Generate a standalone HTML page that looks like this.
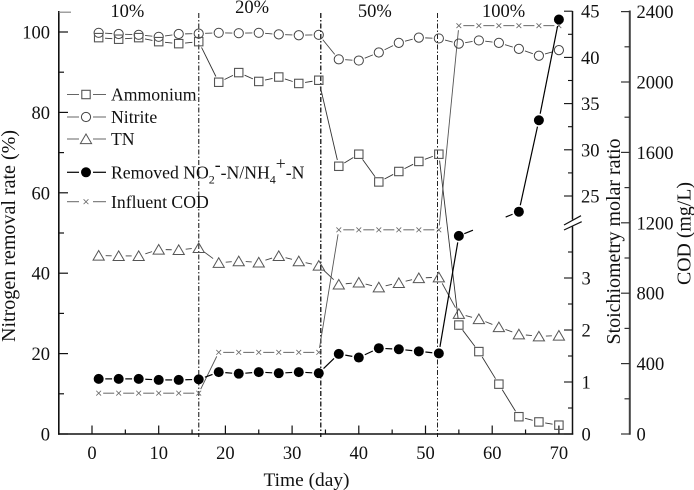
<!DOCTYPE html>
<html>
<head>
<meta charset="utf-8">
<title>Nitrogen removal chart</title>
<style>
html,body{margin:0;padding:0;background:#fff;}
svg{display:block;filter:blur(0.25px);}
text{font-family:"Liberation Serif",serif;fill:#111;}
</style>
</head>
<body>
<svg id="chart" xmlns="http://www.w3.org/2000/svg" width="694" height="490" viewBox="0 0 694 490"></svg>
<script>
const days = [1,4,7,10,13,16,19,22,25,28,31,34,37,40,43,46,49,52,55,58,61,64,67,70];
const ammonium = [98.6,98.2,98.6,97.6,97.1,97.6,87.5,89.9,87.7,88.8,87.2,88,66.6,69.6,62.7,65.3,67.8,69.6,27.1,20.5,12.4,4.3,3,2.2];
const nitrite = [99.8,99.5,99.3,98.8,99.5,99.6,99.8,99.7,99.8,99.4,99.2,99.3,93.2,92.9,94.9,97.3,98.6,98.4,97.1,97.9,97.3,95.8,94.1,95.5];
const tn = [44.4,44.3,44.3,45.9,45.8,46.3,42.6,43,42.7,44.3,43,41.9,37.2,37.7,36.5,37.6,38.8,39,29.9,28.6,26.6,24.8,24.3,24.5];
const ratioDays = [1,4,7,10,13,16,19,22,25,28,31,34,37,40,43,46,49,52,55,64,67,70];
const ratio = [1.06,1.06,1.06,1.04,1.04,1.05,1.19,1.16,1.19,1.17,1.19,1.17,1.54,1.47,1.65,1.63,1.59,1.55,3.81,23.3,33.2,44.1];
const cod = [232,232,232,232,232,232,464,464,464,464,464,464,1160,1160,1160,1160,1160,1160,2320,2320,2320,2320,2320,2320];
const phaseDays = [16,34.3,51.8];
const phaseLabels = ["10%","20%","50%","100%"];
const phaseLabelDays = [5.3,24,42.4,61.7];
const xTicks = [0,10,20,30,40,50,60,70];
const xMinorTicks = [5,15,25,35,45,55,65];
const leftTicks = [0,20,40,60,80,100];
const leftMinorTicks = [10,30,50,70,90,105];
const ratioLowTicks = [0,1,2,3];
const ratioLowMinor = [0.5,1.5,2.5,3.5];
const ratioHighTicks = [25,30,35,40,45];
const ratioHighMinor = [27.5,32.5,37.5,42.5];
const codTicks = [0,400,800,1200,1600,2000,2400];
const codMinor = [200,600,1000,1400,1800,2200];

const svg = document.getElementById('chart');
const NS = 'http://www.w3.org/2000/svg';
const xScale = d => 92 + d * 6.67;
const yLeft = v => 434 - v * 4.02;
const yRatio = v => v <= 4 ? 434 - v * 52 : 196 - (v - 25) * 9.24;
const yCod = v => 434 - v * 0.176;

function el(tag, attrs, parent) {
  const n = document.createElementNS(NS, tag);
  for (const k in attrs) n.setAttribute(k, attrs[k]);
  (parent || svg).appendChild(n);
  return n;
}
function group(name) {
  const g = el('g', {});
  
  
  return g;
}
function line(g, x1, y1, x2, y2, stroke, w, dash) {
  const a = {x1, y1, x2, y2, stroke, 'stroke-width': w};
  if (dash) a['stroke-dasharray'] = dash;
  return el('line', a, g);
}
function label(g, x, y, str, size, anchor, rotate, fit) {
  const a = {x, y, 'font-size': size, 'text-anchor': anchor || 'start'};
  if (rotate) a.transform = 'rotate(-90 ' + x + ' ' + y + ')';
  if (fit) {
    a.textLength = fit;
    a.lengthAdjust = 'spacingAndGlyphs';
  }
  const t = el('text', a, g);
  t.textContent = str;
  return t;
}
function marker(g, kind, x, y, color) {
  if (kind === 'square') el('rect', {x: x - 4.2, y: y - 4.2, width: 8.4, height: 8.4, fill: 'none', stroke: color, 'stroke-width': 1.1}, g);
  if (kind === 'circle') el('circle', {cx: x, cy: y, r: 4.6, fill: 'none', stroke: color, 'stroke-width': 1}, g);
  if (kind === 'triangle') el('polygon', {points: (x - 5.6) + ',' + (y + 4.6) + ' ' + x + ',' + (y - 5) + ' ' + (x + 5.6) + ',' + (y + 4.6), fill: 'none', stroke: color, 'stroke-width': 1}, g);
  if (kind === 'dot') el('circle', {cx: x, cy: y, r: 5, fill: '#000'}, g);
  if (kind === 'cross') {
    line(g, x - 2.4, y - 2.4, x + 2.4, y + 2.4, color, 0.8);
    line(g, x - 2.4, y + 2.4, x + 2.4, y - 2.4, color, 0.8);
  }
}
function connect(g, a, b, gap, color, w) {
  const dx = b[0] - a[0], dy = b[1] - a[1], len = Math.hypot(dx, dy);
  if (len <= gap * 2 + 0.5) return;
  const ux = dx / len, uy = dy / len;
  line(g, a[0] + ux * gap, a[1] + uy * gap, b[0] - ux * gap, b[1] - uy * gap, color, w);
}
function series(name, xs, ys, yFn, kind, markColor, lineColor, w, gap) {
  const g = group(name);
  const pts = xs.map((d, i) => [xScale(d), yFn(ys[i]), ys[i]]);
  for (let i = 0; i < pts.length - 1; i++) {
    const a = pts[i], b = pts[i + 1];
    if (kind === 'dot' && a[2] <= 4 && b[2] > 4) {
      const dx = b[0] - a[0], dy = b[1] - a[1];
      line(g, a[0] + dx * 0.09, a[1] + dy * 0.09, a[0] + dx * 0.235, a[1] + dy * 0.235, lineColor, w);
      line(g, a[0] + dx * 0.78, a[1] + dy * 0.78, a[0] + dx * 0.895, a[1] + dy * 0.895, lineColor, w);
    } else {
      connect(g, a, b, gap, lineColor, w);
    }
  }
  pts.forEach(p => marker(g, kind, p[0], p[1], markColor));
  return g;
}

/* phase dividers */
const phaseG = group('phase-dividers');
phaseDays.forEach((d, i) => {
  const c = ['#444', '#111', '#222'][i];
  line(phaseG, xScale(d), 13, xScale(d), 437, c, i === 2 ? 1 : 1.3, '5 2 1.5 2');
});
const phaseTextG = group('phase-labels');
phaseLabels.forEach((s, i) => {
  label(phaseTextG, xScale(phaseLabelDays[i]), i === 1 ? 13 : 17, s, 18.5, 'middle');
});

/* left axis */
const leftAxis = group('left-axis');
line(leftAxis, 58.8, 11, 58.8, 434.8, '#111', 1.6);
leftTicks.forEach(v => {
  line(leftAxis, 58.8, yLeft(v), 68, yLeft(v), '#111', 1.2);
  label(leftAxis, 50, yLeft(v) + 6.5, String(v), 18.5, 'end');
});
leftMinorTicks.forEach(v => {
  const top = v === 105;
  line(leftAxis, 58.8, yLeft(v) + (top ? 0.3 : 0), top ? 71 : 64, yLeft(v) + (top ? 0.3 : 0), top ? '#888' : '#111', 1.2);
});
label(leftAxis, 15, 342, 'Nitrogen removal rate (%)', 20, 'start', true, 212);

/* bottom axis */
const bottomAxis = group('x-axis');
line(bottomAxis, 58, 434, 573.2, 434, '#111', 1.5);
xTicks.forEach(v => {
  line(bottomAxis, xScale(v), 434, xScale(v), 425.5, '#111', 1.2);
  label(bottomAxis, xScale(v), 459, String(v), 18.5, 'middle');
});
xMinorTicks.forEach(v => {
  line(bottomAxis, xScale(v), 434, xScale(v), 429.5, '#111', 1.2);
});
label(bottomAxis, 306.5, 486, 'Time (day)', 19.4, 'middle');

/* ratio axis */
const ratioAxis = group('stoichiometry-axis');
line(ratioAxis, 572.5, 434.6, 572.5, 226.5, '#111', 1.5);
line(ratioAxis, 572.5, 219.5, 572.5, 11, '#111', 1.5);
line(ratioAxis, 564, 230, 581.7, 221.7, '#111', 1.2);
line(ratioAxis, 564, 225, 581, 215.7, '#111', 1.2);
ratioLowTicks.forEach(v => {
  line(ratioAxis, 564, yRatio(v), 572.5, yRatio(v), '#111', 1.1);
  label(ratioAxis, 581.5, yRatio(v) + 6.5, String(v), 18.5);
});
ratioHighTicks.forEach(v => {
  line(ratioAxis, 564, yRatio(v), 572.5, yRatio(v), '#111', 1.1);
  label(ratioAxis, 581, yRatio(v) + 6.5, String(v), 18.5);
});
ratioLowMinor.concat(ratioHighMinor).forEach(v => {
  line(ratioAxis, 568, yRatio(v), 572.5, yRatio(v), '#111', 1.1);
});
label(ratioAxis, 620, 344.5, 'Stoichiometry molar ratio', 20, 'start', true, 206);

/* COD axis */
const codAxis = group('cod-axis');
line(codAxis, 629.8, 10.5, 629.8, 434.8, '#444', 2);
codTicks.forEach(v => {
  line(codAxis, 621, yCod(v), 630, yCod(v), '#333', 1.2);
  label(codAxis, 636.5, yCod(v) + 6.5, String(v), 18.5);
});
codMinor.forEach(v => {
  line(codAxis, 624.5, yCod(v), 630, yCod(v), '#333', 1.2);
});
label(codAxis, 690.5, 285, 'COD (mg/L)', 20, 'start', true, 103);

/* series */
series('influent-cod-series', days, cod, yCod, 'cross', '#666', '#555', 0.9, 4.5);
series('tn-series', days, tn, yLeft, 'triangle', '#555', '#444', 0.9, 7);
series('nitrite-series', days, nitrite, yLeft, 'circle', '#444', '#444', 0.9, 6.4);
series('ammonium-series', days, ammonium, yLeft, 'square', '#555', '#333', 0.9, 6.4);
series('removed-ratio-series', ratioDays, ratio, yRatio, 'dot', '#000', '#000', 1.2, 6.6);

/* legend */
const legend = group('legend');
function legendKey(name, y, kind, mark, lc, w, gap) {
  const g = el('g', {}, legend);
  
  
  line(g, 67, y, 86 - gap, y, lc, w);
  line(g, 86 + gap, y, 106, y, lc, w);
  marker(g, kind, 86, y, mark);
  return g;
}
label(legendKey('legend-ammonium', 94.5, 'square', '#555', '#666', 1, 7), 111, 100.5, 'Ammonium', 17.7);
label(legendKey('legend-nitrite', 117, 'circle', '#444', '#666', 1, 7), 111, 123, 'Nitrite', 17.7);
label(legendKey('legend-tn', 139, 'triangle', '#555', '#666', 1, 7), 111, 145, 'TN', 17.7);
const rm = legendKey('legend-removed-ratio', 172.3, 'dot', '#000', '#111', 1.3, 7);
const rt = label(rm, 111, 178.5, '', 17.7);
[['Removed NO', 17.7, 0], ['2', 12, 5], ['-', 17.7, -13], ['-N/NH', 17.7, 8], ['4', 12, 5], ['+', 17.7, -14], ['-N', 17.7, 9]].forEach(p => {
  const s = el('tspan', {'font-size': p[1], dy: p[2]}, rt);
  s.textContent = p[0];
});
label(legendKey('legend-influent-cod', 201.7, 'cross', '#666', '#666', 1, 7), 111, 208, 'Influent COD', 17.7);
</script>
</body>
</html>
